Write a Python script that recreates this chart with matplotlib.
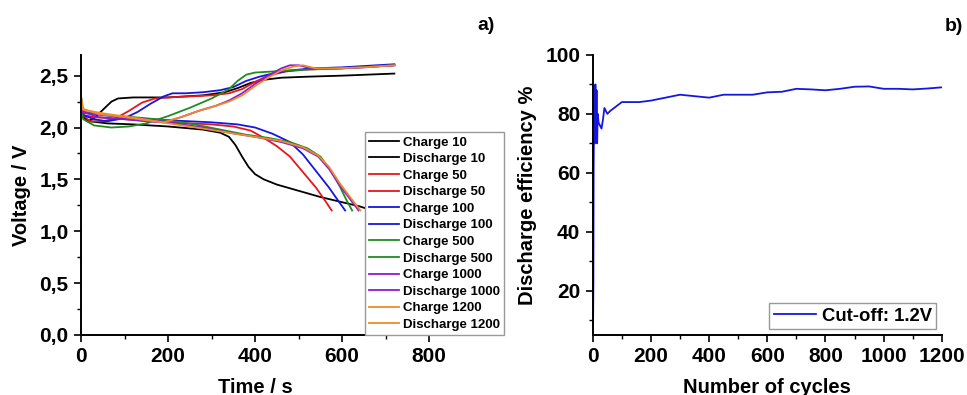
import matplotlib.pyplot as plt
from matplotlib.ticker import MultipleLocator, FuncFormatter

# --- panel a: charge / discharge curves (time in s, voltage in V) ---
labels = ["Charge 10", "Discharge 10", "Charge 50", "Discharge 50",
          "Charge 100", "Discharge 100", "Charge 500", "Discharge 500",
          "Charge 1000", "Discharge 1000", "Charge 1200", "Discharge 1200"]
colors = ["black", "black", "#e8161c", "#e8161c", "#1616e0", "#1616e0",
          "#1e8c1e", "#1e8c1e", "#8a1ed2", "#8a1ed2", "#f0892a", "#f0892a"]

t_c10 = [0, 5, 15, 30, 50, 70, 85, 120, 200, 280, 330, 360, 390, 420, 460, 520, 600, 720]
v_c10 = [2.30, 2.12, 2.06, 2.09, 2.17, 2.25, 2.28, 2.29, 2.29, 2.31, 2.34, 2.38, 2.43, 2.46, 2.48, 2.49, 2.50, 2.52]
t_d10 = [0, 5, 20, 60, 120, 200, 280, 320, 340, 355, 370, 385, 400, 420, 450, 500, 550, 600, 640, 655]
v_d10 = [2.15, 2.10, 2.06, 2.04, 2.03, 2.01, 1.98, 1.95, 1.91, 1.83, 1.72, 1.62, 1.55, 1.50, 1.45, 1.39, 1.33, 1.28, 1.24, 1.22]

t_c50 = [0, 5, 20, 50, 80, 110, 140, 170, 200, 250, 300, 340, 370, 400, 430, 470, 520, 600, 720]
v_c50 = [2.25, 2.12, 2.06, 2.06, 2.09, 2.16, 2.24, 2.28, 2.29, 2.30, 2.31, 2.33, 2.37, 2.44, 2.50, 2.54, 2.56, 2.57, 2.60]
t_d50 = [0, 5, 30, 100, 200, 300, 350, 390, 420, 450, 480, 510, 540, 560, 576]
v_d50 = [2.18, 2.12, 2.10, 2.08, 2.05, 2.03, 2.01, 1.97, 1.90, 1.82, 1.72, 1.57, 1.42, 1.30, 1.20]

t_c100 = [0, 5, 30, 60, 100, 130, 160, 190, 210, 240, 280, 320, 350, 380, 410, 440, 480, 530, 600, 720]
v_c100 = [2.20, 2.12, 2.08, 2.06, 2.09, 2.15, 2.23, 2.30, 2.33, 2.33, 2.34, 2.36, 2.39, 2.45, 2.49, 2.52, 2.55, 2.57, 2.58, 2.61]
t_d100 = [0, 5, 50, 120, 200, 300, 360, 400, 440, 480, 510, 540, 570, 590, 607]
v_d100 = [2.20, 2.15, 2.12, 2.09, 2.07, 2.05, 2.03, 2.00, 1.94, 1.86, 1.74, 1.58, 1.42, 1.30, 1.20]

t_c500 = [0, 5, 30, 70, 110, 150, 200, 250, 300, 340, 360, 380, 400, 440, 480, 530, 600, 720]
v_c500 = [2.20, 2.08, 2.02, 2.00, 2.01, 2.04, 2.11, 2.19, 2.28, 2.37, 2.45, 2.51, 2.53, 2.54, 2.55, 2.56, 2.57, 2.60]
t_d500 = [0, 5, 50, 120, 200, 260, 320, 380, 430, 480, 520, 550, 575, 595, 610, 623]
v_d500 = [2.20, 2.15, 2.12, 2.10, 2.07, 2.03, 1.98, 1.93, 1.90, 1.86, 1.80, 1.72, 1.58, 1.43, 1.30, 1.20]

t_c1000 = [0, 5, 40, 100, 150, 190, 230, 270, 310, 340, 370, 400, 430, 460, 480, 500, 530, 580, 650, 720]
v_c1000 = [2.25, 2.15, 2.10, 2.08, 2.06, 2.05, 2.10, 2.16, 2.21, 2.26, 2.33, 2.42, 2.50, 2.57, 2.60, 2.60, 2.57, 2.57, 2.58, 2.60]
t_d1000 = [0, 5, 60, 130, 200, 280, 340, 400, 460, 510, 545, 570, 595, 620, 638]
v_d1000 = [2.18, 2.14, 2.12, 2.09, 2.05, 2.00, 1.95, 1.91, 1.86, 1.80, 1.72, 1.60, 1.44, 1.30, 1.20]

t_c1200 = [0, 5, 40, 100, 150, 190, 230, 270, 310, 340, 370, 400, 430, 460, 490, 510, 540, 580, 650, 720]
v_c1200 = [2.30, 2.18, 2.13, 2.10, 2.07, 2.05, 2.10, 2.16, 2.21, 2.25, 2.31, 2.40, 2.48, 2.55, 2.59, 2.60, 2.57, 2.57, 2.58, 2.60]
t_d1200 = [0, 5, 60, 130, 200, 280, 340, 400, 460, 510, 545, 570, 595, 620, 642]
v_d1200 = [2.22, 2.17, 2.13, 2.09, 2.04, 1.99, 1.95, 1.91, 1.87, 1.81, 1.73, 1.62, 1.46, 1.32, 1.20]

times = [t_c10, t_d10, t_c50, t_d50, t_c100, t_d100, t_c500, t_d500,
         t_c1000, t_d1000, t_c1200, t_d1200]
volts = [v_c10, v_d10, v_c50, v_d50, v_c100, v_d100, v_c500, v_d500,
         v_c1000, v_d1000, v_c1200, v_d1200]

# --- panel b: discharge efficiency vs cycle number ---
cycles = [1, 2, 3, 5, 7, 9, 11, 13, 15, 17, 20, 25, 30, 35, 40, 45, 50, 60, 80, 100,
          120, 160, 200, 250, 300, 350, 400, 450, 500, 550, 600, 650, 700, 750,
          800, 850, 900, 950, 1000, 1050, 1100, 1150, 1200]
efficiency = [8, 22, 62, 86, 70, 90, 72, 88, 70, 80, 77, 76, 75, 78, 82, 81, 80, 81, 82.5, 84,
              84, 84, 84.5, 85.5, 86.5, 86, 85.5, 86.5, 86.5, 86.5, 87.3, 87.5, 88.5, 88.3,
              88.0, 88.5, 89.2, 89.3, 88.5, 88.5, 88.3, 88.6, 89.0]

plt.rcParams['font.family'] = ['Liberation Sans', 'DejaVu Sans']
plt.rcParams['font.weight'] = 'bold'
plt.rcParams['axes.labelweight'] = 'bold'

fig = plt.figure(figsize=(9.67, 3.95), dpi=100)
ax1 = fig.add_axes([0.0838, 0.152, 0.360, 0.709])
ax2 = fig.add_axes([0.613, 0.152, 0.361, 0.709])

for t, v, lab, c in zip(times, volts, labels, colors):
    ax1.plot(t, v, color=c, lw=1.3, label=lab)

ax1.set_xlim(0, 800)
ax1.set_ylim(0, 2.7)
ax1.xaxis.set_major_locator(MultipleLocator(200))
ax1.xaxis.set_minor_locator(MultipleLocator(100))
ax1.yaxis.set_major_locator(MultipleLocator(0.5))
ax1.yaxis.set_minor_locator(MultipleLocator(0.25))
ax1.yaxis.set_major_formatter(FuncFormatter(lambda y, p: f"{y:.1f}".replace(".", ",")))
ax1.set_xlabel("Time / s", fontsize=14.5, labelpad=8)
ax1.set_ylabel("Voltage / V", fontsize=14.5, labelpad=6)
leg1 = ax1.legend(loc='lower left', bbox_to_anchor=(0.816, 0.0), borderaxespad=0,
                  fontsize=9.5, handlelength=2.3, labelspacing=0.33, handletextpad=0.3,
                  borderpad=0.3, fancybox=False, framealpha=1, edgecolor='#999999')
leg1.get_frame().set_linewidth(1.0)

ax2.plot(cycles, efficiency, color='#1616e0', lw=1.3, label="Cut-off: 1.2V")
ax2.set_xlim(0, 1200)
ax2.set_ylim(5, 100)
ax2.xaxis.set_major_locator(MultipleLocator(200))
ax2.xaxis.set_minor_locator(MultipleLocator(100))
ax2.yaxis.set_major_locator(MultipleLocator(20))
ax2.yaxis.set_minor_locator(MultipleLocator(10))
ax2.set_xlabel("Number of cycles", fontsize=14.5, labelpad=8)
ax2.set_ylabel("Discharge efficiency %", fontsize=14.5, labelpad=6)
leg2 = ax2.legend(loc='lower right', fontsize=13.3, handlelength=2.3, handletextpad=0.3,
                  borderpad=0.25, borderaxespad=0.3, fancybox=False, framealpha=1,
                  edgecolor='#999999')
leg2.get_frame().set_linewidth(1.0)

for ax in (ax1, ax2):
    ax.spines['top'].set_visible(False)
    ax.spines['right'].set_visible(False)
    ax.spines['left'].set_linewidth(1.4)
    ax.spines['bottom'].set_linewidth(1.4)
    ax.tick_params(which='major', direction='out', length=5, width=1.2, labelsize=15, pad=4)
    ax.tick_params(which='minor', direction='out', length=3, width=1.0)
    for lbl in ax.get_xticklabels() + ax.get_yticklabels():
        lbl.set_fontweight('bold')

fig.text(0.503, 0.935, "a)", fontsize=14, fontweight='bold', ha='center', va='center')
fig.text(0.986, 0.932, "b)", fontsize=14, fontweight='bold', ha='center', va='center')

fig.savefig("out.png", dpi=100)
